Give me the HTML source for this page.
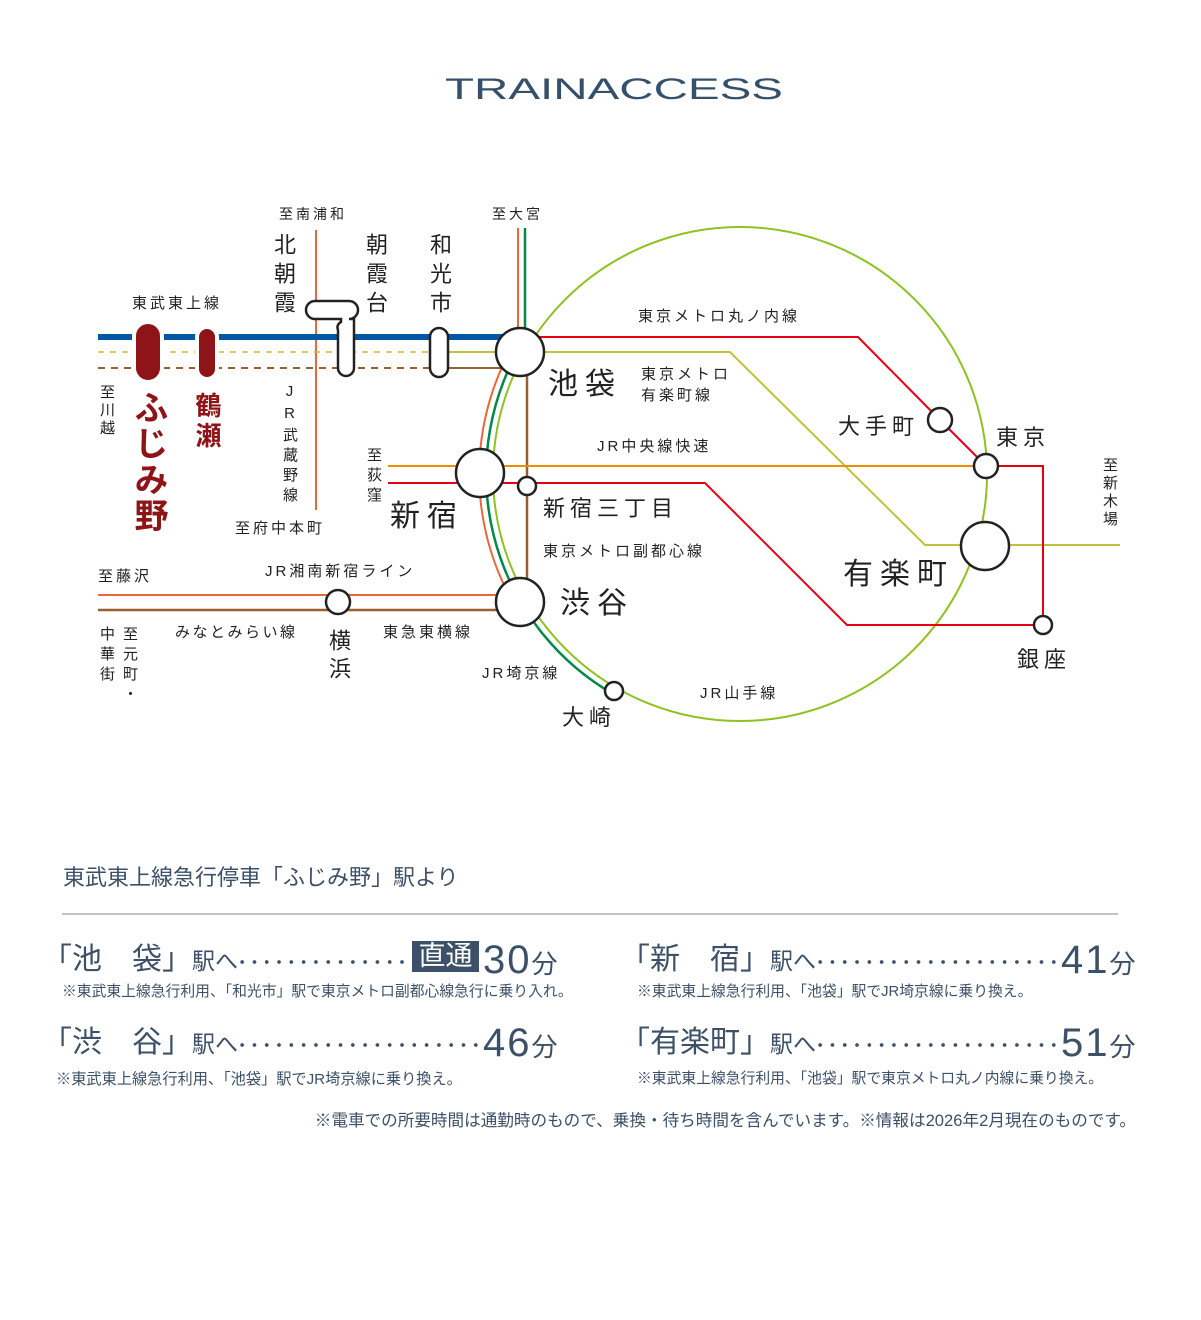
<!DOCTYPE html>
<html><head><meta charset="utf-8">
<style>
html,body{margin:0;padding:0;background:#fff;}
body{width:1201px;height:1320px;position:relative;overflow:hidden;font-family:"Liberation Sans","Noto Sans CJK JP",sans-serif;color:#222;}
.t{position:absolute;white-space:nowrap;line-height:1;}
.v{position:absolute;writing-mode:vertical-rl;text-orientation:upright;line-height:1;white-space:nowrap;}
.b{color:#3c5068;}
.dots{position:absolute;height:8px;background-image:radial-gradient(circle,#3c5068 1.6px,transparent 2.1px);background-size:12.3px 8px;background-repeat:repeat-x;}
</style></head><body>
<svg width="1201" height="1320" style="position:absolute;left:0;top:0">
<text x="445" y="99" font-family="Liberation Sans" font-size="30" fill="#34506a" textLength="338" lengthAdjust="spacingAndGlyphs">TRAINACCESS</text>
<g fill="none">
<circle cx="740" cy="474" r="247" stroke="#8dc21f" stroke-width="2"/>
<path d="M525,228 L525,339 A254,254 0 0 0 612.5,693.6" stroke="#00894d" stroke-width="2.5"/>
<path d="M518,228 L518,337 A261,261 0 0 0 509,595 L98,595" stroke="#e8683a" stroke-width="2"/>
<line x1="316" y1="230" x2="316" y2="510" stroke="#e8683a" stroke-width="2"/>
<line x1="98" y1="352" x2="440" y2="352" stroke="#c2c23a" stroke-width="1.5" stroke-dasharray="6,6"/>
<path d="M440,352 L730,352 L925,545 L1120,545" stroke="#c2c23a" stroke-width="2"/>
<line x1="98" y1="368" x2="440" y2="368" stroke="#9c5e2e" stroke-width="2" stroke-dasharray="7,6"/>
<path d="M440,368 L505,368" stroke="#9c5e2e" stroke-width="2"/>
<path d="M527,352 L527,602" stroke="#9c5e2e" stroke-width="2.5"/>
<path d="M520,610 L98,610" stroke="#9c5e2e" stroke-width="2.5"/>
<line x1="388" y1="466" x2="986" y2="466" stroke="#f08c00" stroke-width="2"/>
<path d="M388,483 L705,483 L847,625 L1043,625" stroke="#e60012" stroke-width="2"/>
<path d="M520,337 L858,337 L940,420 L986,466 L1043,466 L1043,625" stroke="#e60012" stroke-width="2"/>
<line x1="98" y1="337" x2="520" y2="337" stroke="#0058a5" stroke-width="6"/>
</g>
<rect x="134" y="322" width="28" height="60" rx="14" fill="#8e1418" stroke="#fff" stroke-width="4"/>
<rect x="197" y="327" width="20" height="52" rx="10" fill="#8e1418" stroke="#fff" stroke-width="4"/>
<g fill="#fff" stroke="#222" stroke-width="2.5">
<path d="M315,301 L349,301 A9,9 0 0 1 349,319 L354,319 L354,368 A8,8 0 0 1 338,368 L338,330 A6,6 0 0 1 341,322 L341,319 L315,319 A9,9 0 0 1 315,301 Z"/>
<rect x="430" y="328" width="18" height="49" rx="9"/>
<circle cx="520" cy="352" r="24"/>
<circle cx="480" cy="473" r="24"/>
<circle cx="527" cy="486" r="9"/>
<circle cx="520" cy="602" r="24"/>
<circle cx="614" cy="691" r="9"/>
<circle cx="338" cy="602" r="12"/>
<circle cx="940" cy="420" r="12"/>
<circle cx="986" cy="466" r="12"/>
<circle cx="985" cy="546" r="24"/>
<circle cx="1043" cy="625" r="9"/>
</g>
<line x1="62" y1="914" x2="1118" y2="914" stroke="#aab2bb" stroke-width="1.5"/>
</svg>

<div class="t" style="left:279px;top:207px;font-size:14px;letter-spacing:3px">至南浦和</div>
<div class="t" style="left:492px;top:207px;font-size:14px;letter-spacing:3px">至大宮</div>
<div class="v" style="left:272px;top:233px;font-size:22px;letter-spacing:7px">北朝霞</div>
<div class="v" style="left:364px;top:233px;font-size:22px;letter-spacing:7px">朝霞台</div>
<div class="v" style="left:428px;top:233px;font-size:22px;letter-spacing:7px">和光市</div>
<div class="t" style="left:132px;top:296px;font-size:15px;letter-spacing:3px">東武東上線</div>
<div class="v" style="left:99px;top:384px;font-size:15px;letter-spacing:3px">至川越</div>
<div class="v" style="left:131px;top:390px;font-size:34px;font-weight:bold;color:#8e1418;letter-spacing:2px">ふじみ野</div>
<div class="v" style="left:194px;top:392px;font-size:26px;font-weight:bold;color:#8e1418;letter-spacing:4px">鶴瀬</div>
<div class="v" style="left:282px;top:383px;font-size:15px;letter-spacing:5px">JR武蔵野線</div>
<div class="t" style="left:235px;top:521px;font-size:15px;letter-spacing:3px">至府中本町</div>
<div class="v" style="left:366px;top:447px;font-size:15px;letter-spacing:5px">至荻窪</div>
<div class="t" style="left:390px;top:502px;font-size:30px;letter-spacing:7px">新宿</div>
<div class="t" style="left:548px;top:370px;font-size:30px;letter-spacing:7px">池袋</div>
<div class="t" style="left:641px;top:367px;font-size:15px;letter-spacing:3px">東京メトロ</div>
<div class="t" style="left:641px;top:388px;font-size:15px;letter-spacing:3px">有楽町線</div>
<div class="t" style="left:638px;top:309px;font-size:15px;letter-spacing:3px">東京メトロ丸ノ内線</div>
<div class="t" style="left:597px;top:439px;font-size:15px;letter-spacing:3px">JR中央線快速</div>
<div class="t" style="left:543px;top:498px;font-size:22px;letter-spacing:5px">新宿三丁目</div>
<div class="t" style="left:543px;top:544px;font-size:15px;letter-spacing:3px">東京メトロ副都心線</div>
<div class="t" style="left:838px;top:416px;font-size:22px;letter-spacing:5px">大手町</div>
<div class="t" style="left:996px;top:427px;font-size:22px;letter-spacing:5px">東京</div>
<div class="v" style="left:1102px;top:457px;font-size:15px;letter-spacing:3px">至新木場</div>
<div class="t" style="left:843px;top:560px;font-size:30px;letter-spacing:7px">有楽町</div>
<div class="t" style="left:1017px;top:649px;font-size:22px;letter-spacing:5px">銀座</div>
<div class="t" style="left:560px;top:589px;font-size:30px;letter-spacing:7px">渋谷</div>
<div class="t" style="left:98px;top:569px;font-size:15px;letter-spacing:3px">至藤沢</div>
<div class="t" style="left:265px;top:564px;font-size:15px;letter-spacing:3px">JR湘南新宿ライン</div>
<div class="v" style="left:99px;top:626px;font-size:15px;letter-spacing:5px">中華街</div>
<div class="v" style="left:122px;top:626px;font-size:15px;letter-spacing:5px">至元町・</div>
<div class="t" style="left:175px;top:625px;font-size:15px;letter-spacing:2.5px">みなとみらい線</div>
<div class="v" style="left:327px;top:629px;font-size:22px;letter-spacing:6px">横浜</div>
<div class="t" style="left:383px;top:625px;font-size:15px;letter-spacing:3px">東急東横線</div>
<div class="t" style="left:482px;top:666px;font-size:15px;letter-spacing:3px">JR埼京線</div>
<div class="t" style="left:562px;top:707px;font-size:22px;letter-spacing:5px">大崎</div>
<div class="t" style="left:700px;top:686px;font-size:15px;letter-spacing:3px">JR山手線</div>

<div class="t b" style="left:63px;top:867px;font-size:22px">東武東上線急行停車「ふじみ野」駅より</div>

<div class="t b" style="left:42px;top:945px;font-size:30px">「池　袋」<span style="font-size:23px">駅へ</span></div>
<div class="dots" style="left:236px;top:958px;width:172px"></div>
<div class="t" style="left:412px;top:941px;width:67px;height:31px;background:#3c5068;color:#fff;font-size:27px;text-align:center;line-height:31px">直通</div>
<div class="t b" style="left:483px;top:940px;font-size:40px;letter-spacing:2px">30<span style="font-size:26px">分</span></div>
<div class="t b" style="left:62px;top:985px;font-size:14.8px">※東武東上線急行利用、「和光市」駅で東京メトロ副都心線急行に乗り入れ。</div>

<div class="t b" style="left:620px;top:945px;font-size:30px">「新　宿」<span style="font-size:23px">駅へ</span></div>
<div class="dots" style="left:814px;top:958px;width:246px"></div>
<div class="t b" style="left:1061px;top:940px;font-size:40px;letter-spacing:2px">41<span style="font-size:26px">分</span></div>
<div class="t b" style="left:637px;top:985px;font-size:14.8px">※東武東上線急行利用、「池袋」駅でJR埼京線に乗り換え。</div>

<div class="t b" style="left:42px;top:1028px;font-size:30px">「渋　谷」<span style="font-size:23px">駅へ</span></div>
<div class="dots" style="left:236px;top:1041px;width:246px"></div>
<div class="t b" style="left:483px;top:1023px;font-size:40px;letter-spacing:2px">46<span style="font-size:26px">分</span></div>
<div class="t b" style="left:56px;top:1072px;font-size:15.2px">※東武東上線急行利用、「池袋」駅でJR埼京線に乗り換え。</div>

<div class="t b" style="left:620px;top:1028px;font-size:30px">「有楽町」<span style="font-size:23px">駅へ</span></div>
<div class="dots" style="left:814px;top:1041px;width:246px"></div>
<div class="t b" style="left:1061px;top:1023px;font-size:40px;letter-spacing:2px">51<span style="font-size:26px">分</span></div>
<div class="t b" style="left:637px;top:1072px;font-size:14.8px">※東武東上線急行利用、「池袋」駅で東京メトロ丸ノ内線に乗り換え。</div>

<div class="t b" style="right:65px;top:1113px;font-size:16.6px">※電車での所要時間は通勤時のもので、乗換・待ち時間を含んでいます。※情報は2026年2月現在のものです。</div>
</body></html>
